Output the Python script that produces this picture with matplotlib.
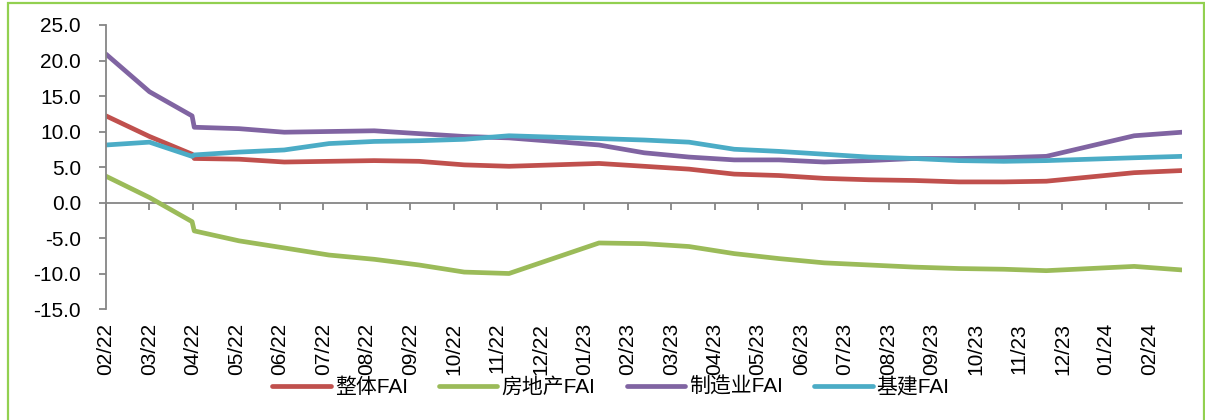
import matplotlib
matplotlib.use("Agg")
import matplotlib.pyplot as plt
from matplotlib.patches import Rectangle

# ---- data ----
tick_labels = ["02/22", "03/22", "04/22", "05/22", "06/22", "07/22", "08/22", "09/22",
               "10/22", "11/22", "12/22", "01/23", "02/23", "03/23", "04/23", "05/23",
               "06/23", "07/23", "08/23", "09/23", "10/23", "11/23", "12/23", "01/24", "02/24"]
x_pos = [0.0, 1.0, 1.98, 2.03, 3.06, 4.10, 5.13, 6.17, 7.20, 8.24, 9.27,
         11.34, 12.38, 13.41, 14.45, 15.48, 16.52, 17.55, 18.59, 19.62, 20.65, 21.63,
         23.65, 24.75]
total_fai = [12.2, 9.3, 6.8, 6.2, 6.1, 5.7, 5.8, 5.9, 5.8, 5.3, 5.1,
             5.5, 5.1, 4.7, 4.0, 3.8, 3.4, 3.2, 3.1, 2.9, 2.9, 3.0,
             4.2, 4.5]
realestate_fai = [3.7, 0.7, -2.7, -4.0, -5.4, -6.4, -7.4, -8.0, -8.8, -9.8, -10.0,
                  -5.7, -5.8, -6.2, -7.2, -7.9, -8.5, -8.8, -9.1, -9.3, -9.4, -9.6,
                  -9.0, -9.5]
manuf_fai = [20.9, 15.6, 12.2, 10.6, 10.4, 9.9, 10.0, 10.1, 9.7, 9.3, 9.1,
             8.1, 7.0, 6.4, 6.0, 6.0, 5.7, 5.9, 6.2, 6.2, 6.3, 6.5,
             9.4, 9.9]
infra_fai = [8.1, 8.5, 6.5, 6.7, 7.1, 7.4, 8.3, 8.6, 8.7, 8.9, 9.4,
             9.0, 8.8, 8.5, 7.5, 7.2, 6.8, 6.4, 6.2, 5.9, 5.8, 5.9,
             6.3, 6.5]
series_names = ["整体FAI", "房地产FAI", "制造业FAI", "基建FAI"]
y_ticks = [-15, -10, -5, 0, 5, 10, 15, 20, 25]

plt.rcParams['font.family'] = ['Liberation Sans', 'Noto Sans CJK SC', 'DejaVu Sans']

W, H = 1205, 420
fig = plt.figure(figsize=(W / 100, H / 100), dpi=100)
ax = fig.add_axes([106 / W, 1 - 309 / H, (1182 - 106) / W, (309 - 25) / H])

colors = ["#C0504D", "#9BBB59", "#8064A2", "#4BACC6"]
data = [total_fai, realestate_fai, manuf_fai, infra_fai]
handles = []
for vals, c, name in zip(data, colors, series_names):
    h, = ax.plot(x_pos, vals, color=c, lw=3.4, solid_capstyle='round',
                 solid_joinstyle='round', label=name, clip_on=True)
    handles.append(h)

ax.set_ylim(-15, 25)
ax.set_xlim(0, 24.75)
ax.set_yticks(y_ticks)
ax.set_yticklabels([f"{v:.1f}" for v in y_ticks])

gray = "#868686"
for s in ["top", "right", "bottom"]:
    ax.spines[s].set_visible(False)
ax.spines["left"].set_color(gray)
ax.spines["left"].set_linewidth(1.3)
ax.tick_params(axis='y', direction='out', length=5, width=1.3, color=gray,
               labelsize=15, pad=13)

ticks = list(range(len(tick_labels)))
ax.set_xticks(ticks)
ax.set_xticklabels(tick_labels, rotation=90, fontsize=15)
ax.tick_params(axis='x', length=0, pad=10)

# zero line with tick marks
sec = ax.secondary_xaxis(15 / 40)
sec.set_xticks(ticks)
sec.set_xticklabels([])
sec.spines["bottom"].set_color(gray)
sec.spines["bottom"].set_linewidth(1.3)
sec.tick_params(axis='x', direction='out', length=5, width=1.3, color=gray)

fig.legend(handles=handles, labels=series_names, loc='center',
           bbox_to_anchor=(611 / W, 1 - 387 / H), ncol=4, frameon=False,
           fontsize=15, handlelength=2.8, handletextpad=0.2, columnspacing=1.5)

fig.patches.append(Rectangle((8 / W, -0.05), (1204 - 8) / W, 1.05 - 3 / H,
                             transform=fig.transFigure, fill=False,
                             edgecolor="#92D050", lw=1.6))

fig.savefig("out.png", dpi=100)
